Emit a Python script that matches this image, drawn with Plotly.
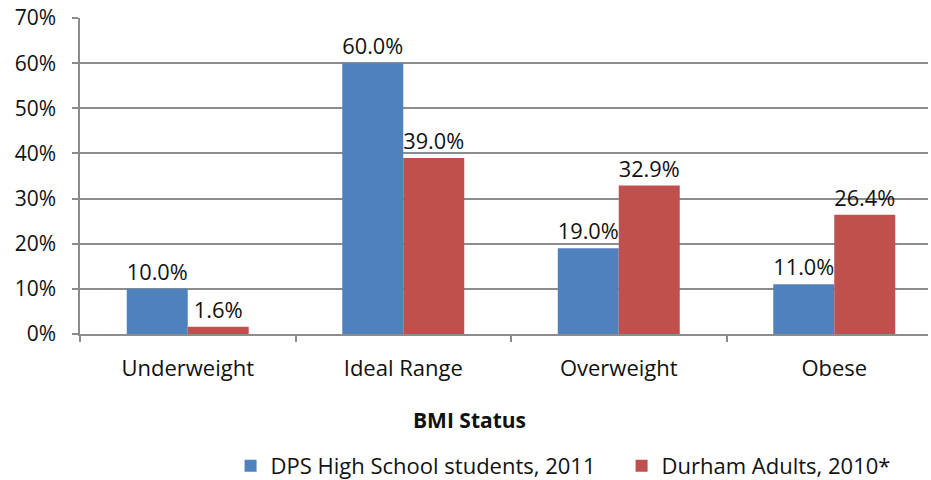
import plotly.graph_objects as go

categories = ["Underweight", "Ideal Range", "Overweight", "Obese"]
dps_students = [10.0, 60.0, 19.0, 11.0]
durham_adults = [1.6, 39.0, 32.9, 26.4]
series_names = ["DPS High School students, 2011", "Durham Adults, 2010*"]
y_ticks = [0, 10, 20, 30, 40, 50, 60, 70]
y_tick_labels = [f"{v}%" for v in y_ticks]

FONT = "Open Sans"
GRID = "#8c8c8c"
TXT = "#111"

fig = go.Figure()
fig.add_trace(go.Bar(
    x=categories, y=dps_students, name=series_names[0],
    marker=dict(color="#4F81BD", line=dict(width=0)),
    text=[f"{v:.1f}%" for v in dps_students], textposition="outside",
    textfont=dict(family=FONT, size=22, color=TXT), cliponaxis=False,
))
fig.add_trace(go.Bar(
    x=categories, y=durham_adults, name=series_names[1],
    marker=dict(color="#C0504D", line=dict(width=0)),
    text=[f"{v:.1f}%" for v in durham_adults], textposition="outside",
    textfont=dict(family=FONT, size=22, color=TXT), cliponaxis=False,
))

fig.update_layout(
    width=931, height=480,
    margin=dict(l=80, r=3, t=18, b=146, autoexpand=False),
    paper_bgcolor="white", plot_bgcolor="white",
    barmode="group", bargap=0.434, bargroupgap=0,
    font=dict(family=FONT, size=21, color=TXT),
    showlegend=True,
    legend=dict(orientation="h", x=(245 - 80) / 848 - 0.017, xanchor="left",
                y=(334 - 466) / 316, yanchor="middle",
                font=dict(family=FONT, size=22, color=TXT), traceorder="normal",
                entrywidth=346, entrywidthmode="pixels", bgcolor="rgba(0,0,0,0)"),
    annotations=[dict(text="<b>BMI Status</b>", xref="paper", yref="paper",
                      x=(469 - 80) / 848, y=(334 - 420) / 316, xanchor="center", yanchor="middle",
                      showarrow=False, font=dict(family=FONT, size=21, color=TXT))],
)
fig.update_xaxes(
    range=[-0.5, 3.435], showgrid=False, showline=True, linecolor=GRID, linewidth=1.5,
    ticks="outside", tickson="boundaries", ticklen=6, tickcolor=GRID, tickwidth=1.5,
    tickfont=dict(family=FONT, size=22, color=TXT), ticklabelstandoff=14, automargin=False,
)
fig.update_yaxes(
    range=[0, 70.02], tickvals=y_ticks, ticktext=y_tick_labels,
    showgrid=True, gridcolor=GRID, gridwidth=1.5,
    showline=True, linecolor=GRID, linewidth=1.5,
    ticks="outside", ticklen=6, tickcolor=GRID, tickwidth=1.5,
    tickfont=dict(family=FONT, size=21, color=TXT), ticklabelstandoff=12,
    ticklabeloverflow="allow", zeroline=False, automargin=False,
)

# remove the browser's default 8px body margin so the figure sits at the window origin
fig.write_html("out.html",
               config={"displayModeBar": False},
               post_script="document.body.style.margin='0';document.body.style.overflow='hidden';")
